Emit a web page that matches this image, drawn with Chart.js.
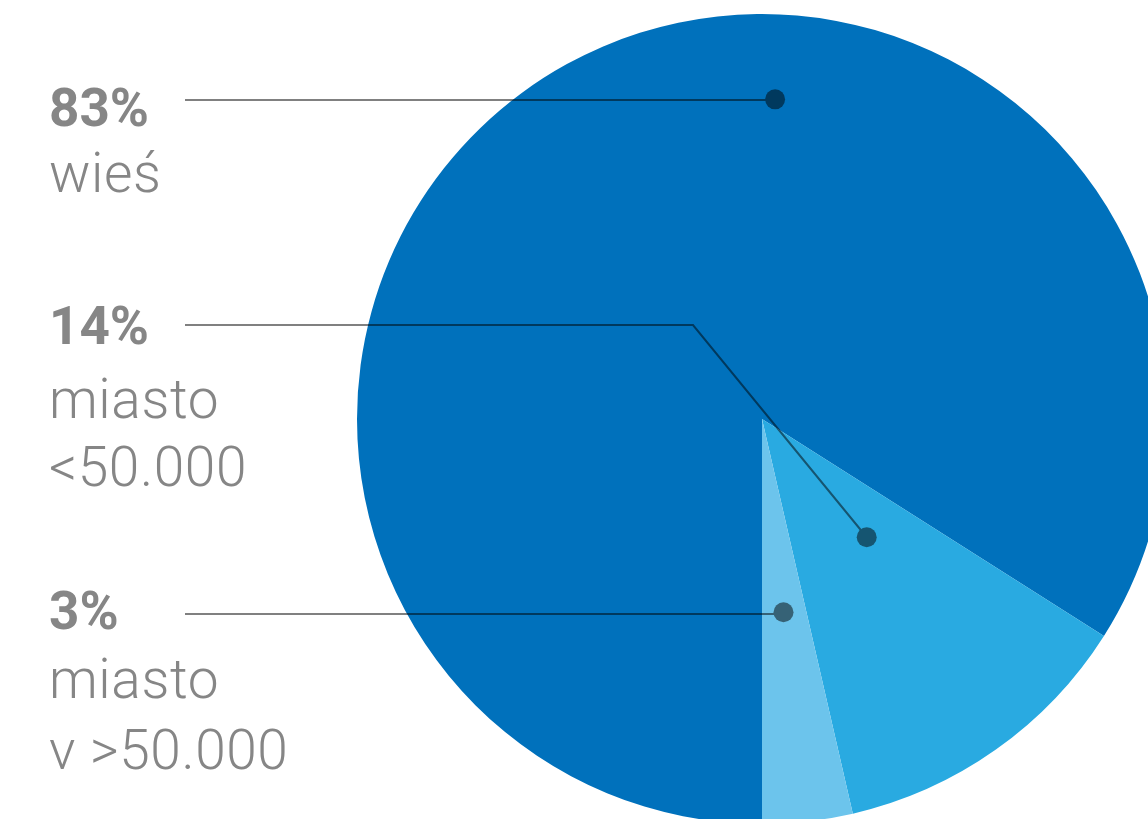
<!DOCTYPE html>
<html lang="pl">
<head>
<meta charset="utf-8">
<title>Miejsce zamieszkania</title>
<script src="https://cdn.jsdelivr.net/npm/chart.js@4.4.1/dist/chart.umd.min.js"></script>
<style>
  html, body { margin: 0; padding: 0; background: #fff; }
  #wrap { position: relative; width: 1148px; height: 819px; overflow: hidden; }
  #pie { position: absolute; left: 0; top: 0; }
  .label { position: absolute; left: 49px; color: #868686; font-family: Roboto, "DejaVu Sans", sans-serif;
           font-size: 55px; line-height: 1; font-weight: 300; white-space: nowrap; letter-spacing: 0.6px; }
  .label.pct { font-size: 53px; font-weight: 700; letter-spacing: 0; }
</style>
</head>
<body>
<div id="wrap">
  <canvas id="pie" width="1200" height="900"></canvas>
  <div id="labels"></div>
</div>
<script>
'use strict';

const categories = ['wieś', 'miasto <50.000', 'miasto v >50.000'];
const shares = [84.0, 12.4, 3.6];
const pctLabels = ['83%', '14%', '3%'];
const labelLines = [['wieś'], ['miasto', '<50.000'], ['miasto', 'v >50.000']];
const colors = ['#0071bc', '#29aae1', '#6cc4ec'];

// label layout (text baselines, leader lines, dots)
const BASELINES = [[127, 192], [345, 418, 486], [630, 698, 769]];
const LINE_Y = [100, 325, 614];
const ELBOW_X = [null, 693, null];
const DOT_ANGLE_FRAC = [0.603, 0.36, 0.51];
const DOT_RADIUS_FRAC = [0.79, 0.39, 0.48];
const LINE_START_X = 185;
const DOT_R = 10;

function $(id) { return document.getElementById(id); }

function addLine(text, cls, baseline, size) {
  const div = document.createElement('div');
  div.className = cls;
  div.textContent = text;
  div.style.top = Math.round(baseline - 0.842 * size) + 'px';
  $('labels').appendChild(div);
}

function buildLabels() {
  categories.forEach((c, i) => {
    const bl = BASELINES[i];
    addLine(pctLabels[i], 'label pct', bl[0], 53);
    labelLines[i].forEach((t, j) => addLine(t, 'label', bl[j + 1], 55));
  });
}

const leaderPlugin = {
  id: 'leaders',
  afterDraw(chart) {
    const arcs = chart.getDatasetMeta(0).data;
    const layer = document.createElement('canvas');
    layer.width = chart.canvas.width;
    layer.height = chart.canvas.height;
    const g = layer.getContext('2d');
    g.strokeStyle = '#808080';
    g.fillStyle = '#808080';
    g.lineWidth = 2;
    arcs.forEach((arc, i) => {
      const a = arc.startAngle + DOT_ANGLE_FRAC[i] * (arc.endAngle - arc.startAngle);
      const r = arc.outerRadius * DOT_RADIUS_FRAC[i];
      const dx = arc.x + r * Math.cos(a);
      const dy = arc.y + r * Math.sin(a);
      const y = LINE_Y[i];
      const ex = ELBOW_X[i] === null ? dx : ELBOW_X[i];
      g.beginPath();
      g.moveTo(LINE_START_X, y);
      g.lineTo(ex, y);
      g.lineTo(dx, dy);
      g.stroke();
      g.beginPath();
      g.arc(dx, dy, DOT_R, 0, Math.PI * 2);
      g.fill();
    });
    const ctx = chart.ctx;
    ctx.save();
    ctx.setTransform(1, 0, 0, 1, 0, 0);
    ctx.globalCompositeOperation = 'multiply';
    ctx.drawImage(layer, 0, 0);
    ctx.restore();
  }
};

buildLabels();

new Chart($('pie').getContext('2d'), {
  type: 'pie',
  data: {
    labels: categories,
    datasets: [{ data: shares, backgroundColor: colors, borderWidth: 0, hoverOffset: 0 }]
  },
  options: {
    responsive: false,
    animation: false,
    devicePixelRatio: 1,
    rotation: 180,
    events: [],
    layout: { padding: { left: 357, top: 14, right: 33, bottom: 76 } },
    plugins: { legend: { display: false }, tooltip: { enabled: false } }
  },
  plugins: [leaderPlugin]
});
</script>
</body>
</html>
